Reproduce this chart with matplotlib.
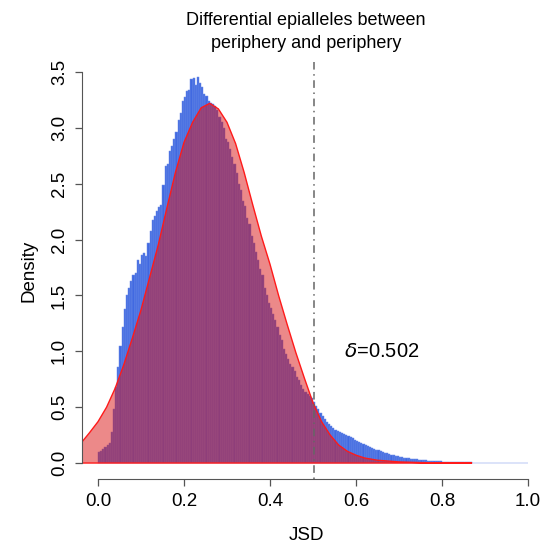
import numpy as np
import matplotlib
matplotlib.use("Agg")
import matplotlib.pyplot as plt

plt.rcParams['font.family'] = ['Liberation Sans', 'DejaVu Sans']

#%% Data
bin_width = 0.005
hist_density = [
    0.10, 0.11, 0.13, 0.14, 0.16, 0.18, 0.28, 0.48, 0.68, 0.86,
    1.05, 1.22, 1.38, 1.50, 1.57, 1.63, 1.68, 1.70, 1.82, 1.78,
    1.86, 1.88, 1.85, 1.97, 2.08, 2.18, 2.21, 2.26, 2.29, 2.31,
    2.49, 2.66, 2.68, 2.79, 2.84, 2.90, 2.96, 3.07, 3.13, 3.24,
    3.28, 3.33, 3.34, 3.44, 3.45, 3.38, 3.46, 3.40, 3.37, 3.30,
    3.29, 3.24, 3.22, 3.21, 3.20, 3.16, 3.10, 3.05, 3.00, 2.90,
    2.87, 2.81, 2.74, 2.68, 2.60, 2.50, 2.44, 2.35, 2.30, 2.19,
    2.14, 2.03, 1.97, 1.89, 1.82, 1.74, 1.68, 1.57, 1.50, 1.43,
    1.39, 1.33, 1.28, 1.22, 1.15, 1.10, 1.02, 0.98, 0.93, 0.89,
    0.86, 0.82, 0.77, 0.74, 0.70, 0.66, 0.64, 0.62, 0.60, 0.58,
    0.55, 0.51, 0.48, 0.45, 0.42, 0.39, 0.37, 0.35, 0.33, 0.31,
    0.30, 0.29, 0.28, 0.27, 0.26, 0.25, 0.24, 0.23, 0.22, 0.21,
    0.20, 0.19, 0.18, 0.17, 0.16, 0.152, 0.144, 0.136, 0.128, 0.12,
    0.113, 0.106, 0.099, 0.092, 0.086, 0.080, 0.075, 0.070, 0.065, 0.060,
    0.056, 0.052, 0.048, 0.045, 0.042, 0.039, 0.036, 0.034, 0.032, 0.030,
    0.028, 0.026, 0.024, 0.022, 0.021, 0.019, 0.018, 0.017, 0.015, 0.014,
    0.013, 0.012, 0.011, 0.010, 0.010, 0.009, 0.008, 0.008, 0.007, 0.007,
    0.006, 0.006, 0.005, 0.005, 0.004, 0.004, 0.004, 0.003, 0.003, 0.003,
    0.003, 0.002, 0.002, 0.002, 0.002, 0.002, 0.0015, 0.0015, 0.0015, 0.001,
    0.001, 0.001, 0.001, 0.001, 0.001, 0.0008, 0.0008, 0.0006, 0.0006, 0.0005,
]
bin_edges = np.arange(len(hist_density)) * bin_width

fit_x = [-0.037, -0.02, 0.0, 0.02, 0.04, 0.06, 0.08, 0.10, 0.12, 0.14,
         0.16, 0.18, 0.20, 0.22, 0.24, 0.26, 0.28, 0.30, 0.32, 0.34,
         0.36, 0.38, 0.40, 0.42, 0.44, 0.46, 0.48, 0.50, 0.52, 0.54,
         0.56, 0.58, 0.60, 0.62, 0.65, 0.70, 0.75, 0.80, 0.87]
fit_y = [0.19, 0.27, 0.37, 0.50, 0.67, 0.88, 1.12, 1.37, 1.66, 1.95,
         2.28, 2.60, 2.87, 3.05, 3.18, 3.22, 3.17, 3.05, 2.86, 2.60,
         2.31, 2.03, 1.78, 1.50, 1.24, 0.99, 0.76, 0.54, 0.37, 0.25,
         0.16, 0.105, 0.07, 0.045, 0.025, 0.01, 0.004, 0.001, 0.0]

delta = 0.502
x_ticks = [0.0, 0.2, 0.4, 0.6, 0.8, 1.0]
y_ticks = [0.0, 0.5, 1.0, 1.5, 2.0, 2.5, 3.0, 3.5]

#%% Figure
W, H = 545, 548
fig = plt.figure(figsize=(W / 100, H / 100), dpi=100)
ax = fig.add_axes([82 / W, (H - 479) / H, (530 - 82) / W, (479 - 62) / H])

ax.bar(bin_edges, hist_density, width=bin_width, align='edge',
       color='#4169E1', edgecolor='#6f8fe8', linewidth=0.35, zorder=1)

poly_x = fit_x + fit_x[::-1]
poly_y = fit_y + [0.0] * len(fit_y)
ax.fill(poly_x, poly_y, facecolor=(0.86, 0.08, 0.08, 0.5),
        edgecolor='#ff1a1a', linewidth=1.0, zorder=2)

ax.axvline(delta, color='#666666', linewidth=1.1,
           linestyle=(0, (1, 3, 5, 3)), zorder=3)
ax.text(0.66, 1.0, r'$\delta$=0.502', fontsize=14.5, ha='center', va='center')

ax.set_xlim(-0.0372, 1.0047)
ax.set_ylim(-0.143, 3.59)
for s in ['top', 'right']:
    ax.spines[s].set_visible(False)
ax.spines['left'].set_bounds(0, 3.5)
ax.spines['bottom'].set_bounds(0, 1)
for s in ['left', 'bottom']:
    ax.spines[s].set_color('#555555')
ax.set_xticks(x_ticks)
ax.set_xticklabels([f"{t:.1f}" for t in x_ticks])
ax.set_yticks(y_ticks)
ax.set_yticklabels([f"{t:.1f}" for t in y_ticks], rotation=90, va='center')
ax.tick_params(direction='out', length=5, width=0.9, color='#555555',
               labelsize=13.5, pad=5)

ax.set_xlabel('JSD', fontsize=13.5, labelpad=12)
ax.set_ylabel('Density', fontsize=13.5, labelpad=10)

fig.text(306 / W, 1 - 32 / H,
         'Differential epialleles between\nperiphery and periphery',
         ha='center', va='center', fontsize=13, linespacing=1.45)

fig.savefig('out.png', dpi=100)
